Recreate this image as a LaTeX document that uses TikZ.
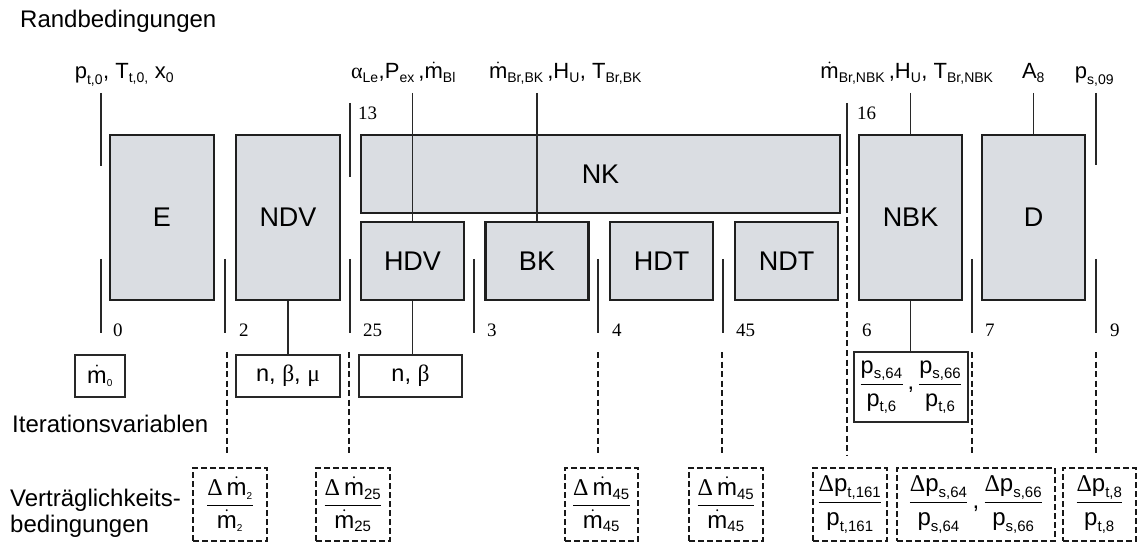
\RequirePackage{fix-cm}
\documentclass[tikz,border=0pt]{standalone}
\usepackage{amsmath}
\usepackage{fontspec}
\setmainfont{Liberation Sans}
\newfontfamily\grk{Liberation Serif}
\newfontfamily\serf{Liberation Serif}
\DeclareMathSizes{22}{22}{14}{10}
\DeclareMathSizes{23.5}{23.5}{15}{10}
\DeclareMathSizes{24}{24}{15}{10}
\newcommand\tx[1]{\text{#1}}
\newcommand\md{\dot{\tx{m}}}
\definecolor{boxgray}{RGB}{218,221,226}
\definecolor{ln}{RGB}{40,40,40}
\tikzset{
 comp/.style={draw=black!88, line width=2.7pt, fill=boxgray, inner sep=0pt, font=\fontsize{27}{30}\selectfont},
 itbox/.style={draw=ln, line width=1.2pt, inner sep=0pt, font=\fontsize{23.5}{26}\selectfont},
 vbox/.style={draw=black!90, line width=2.5pt, dash pattern=on 6pt off 3pt, inner sep=0pt, font=\fontsize{24}{27}\selectfont},
 sline/.style={draw=ln, line width=1.3pt},
 dline/.style={draw=black!90, line width=2.6pt, dash pattern=on 6pt off 3.5pt},
 toplab/.style={anchor=base, inner sep=0pt, font=\fontsize{22}{26}\selectfont},
 stn/.style={anchor=base west, inner sep=0pt, font=\serf\fontsize{19}{21}\selectfont},
 sidelab/.style={anchor=base west, inner sep=0pt, font=\fontsize{24}{26}\selectfont, align=left},
}
\begin{document}
\begin{tikzpicture}[x=1pt,y=-1pt]
\useasboundingbox (0,0) rectangle (1138,545);

% side captions
\node[sidelab] (rb) at (20,28) {Randbedingungen};
\node[sidelab] (iv) at (12,432) {Iterationsvariablen};
\node[sidelab] (vb) at (10,532) {Verträglichkeits-\\bedingungen};

% components
\node[comp, minimum width=104pt, minimum height=165pt] (E) at (162,217.5) {E};
\node[comp, minimum width=104pt, minimum height=165pt] (NDV) at (288,217.5) {NDV};
\node[comp, minimum width=479pt, minimum height=78pt] (NK) at (600.5,174) {NK};
\node[comp, minimum width=103pt, minimum height=78pt] (HDV) at (412.5,261) {HDV};
\node[comp, minimum width=103pt, minimum height=78pt] (BK) at (537,261) {BK};
\node[comp, minimum width=103pt, minimum height=78pt] (HDT) at (661.5,261) {HDT};
\node[comp, minimum width=103pt, minimum height=78pt] (NDT) at (786.5,261) {NDT};
\node[comp, minimum width=103pt, minimum height=165pt] (NBK) at (910.5,217.5) {NBK};
\node[comp, minimum width=103pt, minimum height=165pt] (D) at (1033.5,217.5) {D};

% boundary condition labels
\node[toplab] (l0) at (124.5,79) {$\tx{p}_{\tx{t,0}}\tx{, T}_{\tx{t,0,}}\tx{ x}_{\tx{0}}$};
\node[toplab] (lA) at (403.5,79) {$\tx{\grk α}_{\tx{Le}}\tx{,P}_{\tx{ex}}\,\tx{,}\md_{\tx{Bl}}$};
\node[toplab] (lB) at (565.5,79) {$\md_{\tx{Br,BK}}\,\tx{,H}_{\tx{U}}\tx{, T}_{\tx{Br,BK}}$};
\node[toplab] (lC) at (907,79) {$\md_{\tx{Br,NBK}}\,\tx{,H}_{\tx{U}}\tx{, T}_{\tx{Br,NBK}}$};
\node[toplab] (lD) at (1033.5,79) {$\tx{A}_{\tx{8}}$};
\node[toplab] (lE) at (1094.5,79) {$\tx{p}_{\tx{s,09}}$};

\coordinate (top) at (0,93);
\draw[sline] (HDV.north |- top) -- (HDV.north);
\draw[sline] (BK.north |- top) -- (BK.north);
\draw[sline] (NBK.north |- top) -- (NBK.north);
\draw[sline] (D.north |- top) -- (D.north);

% station markers
\draw[sline] (101,93) coordinate (t0a) -- (101,166) coordinate (t0b);
\draw[sline] (350,103) coordinate (t13a) -- (350,177) coordinate (t13b);
\draw[sline] (847,103) coordinate (t16a) -- (847,160) coordinate (t16b);
\draw[sline] (1096,93) coordinate (t9a) -- (1096,165) coordinate (t9b);
\foreach \nm/\xx in {0/101,2/225,25/350,3/474,4/598,45/723,7/972,9/1096}{
  \draw[sline] (\xx,259) coordinate (b\nm a) -- (\xx,333) coordinate (b\nm b);
}
\node[stn] (n0) at (113,337) {0};
\node[stn] (n2) at (239,337) {2};
\node[stn] (n25) at (363,337) {25};
\node[stn] (n3) at (487,337) {3};
\node[stn] (n4) at (612,337) {4};
\node[stn] (n45) at (736,337) {45};
\node[stn] (n6) at (862,337) {6};
\node[stn] (n7) at (985,337) {7};
\node[stn] (n9) at (1110,337) {9};
\node[stn] (n13) at (358,120) {13};
\node[stn] (n16) at (857,120) {16};

% iteration variables
\node[itbox, minimum width=50pt, minimum height=42pt] (it0) at (100,376) {$\md_{\scriptscriptstyle\tx{0}}$};
\node[itbox, minimum width=104pt, minimum height=42pt] (itNDV) at (288,376) {n, {\grk β}, {\grk μ}};
\node[itbox, minimum width=103pt, minimum height=42pt] (itHDV) at (410.5,376) {n, {\grk β}};
\node[itbox, minimum width=114pt, minimum height=70pt] (itNBK) at (911,387) {$\dfrac{\tx{p}_{\tx{s,64}}}{\tx{p}_{\tx{t,6}}}\,\tx{,}\,\dfrac{\tx{p}_{\tx{s,66}}}{\tx{p}_{\tx{t,6}}}$};
\draw[sline] (NDV.south) -- (itNDV.north);
\draw[sline] (HDV.south) -- (HDV.south |- itHDV.north);
\draw[sline] (NBK.south) -- (NBK.south |- itNBK.north);

% compatibility conditions
\node[vbox, minimum width=74pt, minimum height=73pt] (v2) at (230,504.5) {$\dfrac{\tx{\grk Δ}\,\md_{\scriptscriptstyle\tx{2}}}{\md_{\scriptscriptstyle\tx{2}}}$};
\node[vbox, minimum width=74pt, minimum height=73pt] (v25) at (353,504.5) {$\dfrac{\tx{\grk Δ}\,\md_{\tx{25}}}{\md_{\tx{25}}}$};
\node[vbox, minimum width=73pt, minimum height=73pt] (v4) at (601.5,504.5) {$\dfrac{\tx{\grk Δ}\,\md_{\tx{45}}}{\md_{\tx{45}}}$};
\node[vbox, minimum width=74pt, minimum height=73pt] (v45) at (726,504.5) {$\dfrac{\tx{\grk Δ}\,\md_{\tx{45}}}{\md_{\tx{45}}}$};
\node[vbox, minimum width=74pt, minimum height=73pt] (v6) at (850,504.5) {$\dfrac{\tx{\grk Δ}\tx{p}_{\tx{t,161}}}{\tx{p}_{\tx{t,161}}}$};
\node[vbox, minimum width=158pt, minimum height=73pt] (v7) at (976,504.5) {$\dfrac{\tx{\grk Δ}\tx{p}_{\tx{s,64}}}{\tx{p}_{\tx{s,64}}}\,\tx{,}\,\dfrac{\tx{\grk Δ}\tx{p}_{\tx{s,66}}}{\tx{p}_{\tx{s,66}}}$};
\node[vbox, minimum width=73pt, minimum height=73pt] (v9) at (1099.5,504.5) {$\dfrac{\tx{\grk Δ}\tx{p}_{\tx{t,8}}}{\tx{p}_{\tx{t,8}}}$};

\foreach \nm/\xx in {2/227,25/349,4/598,45/722,7/972,9/1096}{
  \draw[dline] (\xx,352) coordinate (d\nm a) -- (\xx,456) coordinate (d\nm b);
}
\draw[dline] (t16b) -- (847,456) coordinate (d6b);
\end{tikzpicture}
\end{document}
